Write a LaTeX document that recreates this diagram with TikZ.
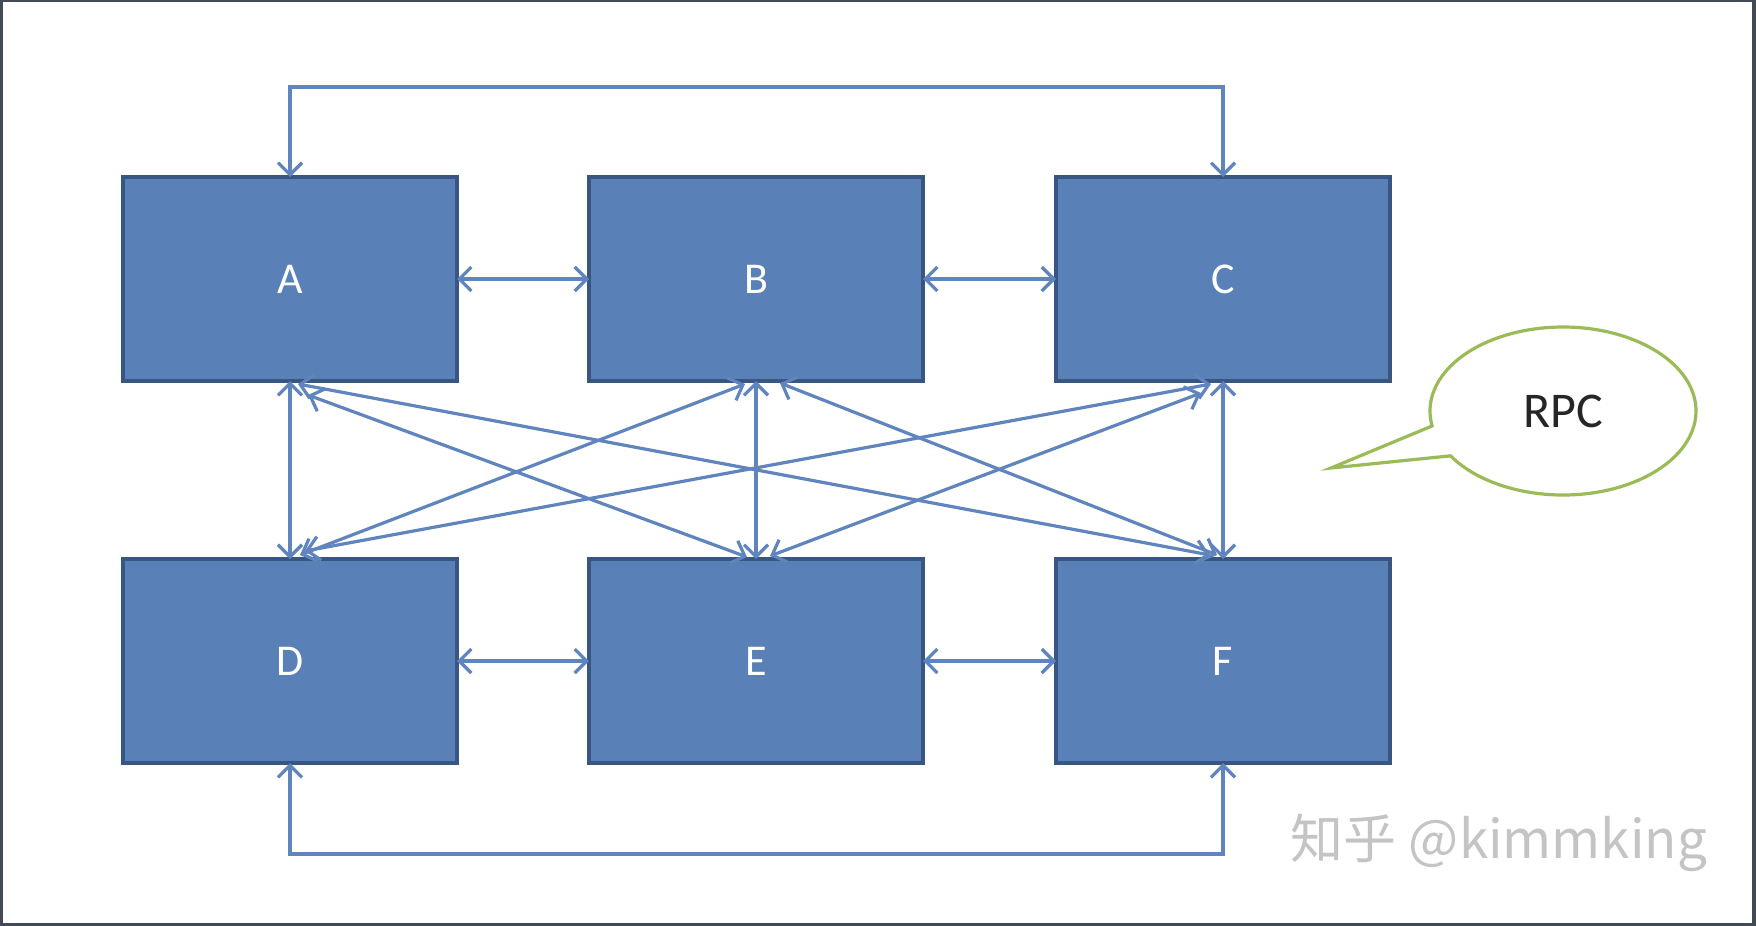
\documentclass[tikz,border=0pt]{standalone}
\usepackage{fontspec}
\setmainfont{Carlito}
\newfontfamily\cjkfont{Noto Sans CJK SC}
\usetikzlibrary{arrows.meta,shapes.callouts}
\definecolor{boxfill}{RGB}{89,128,183}
\definecolor{boxline}{RGB}{56,86,130}
\definecolor{linkcol}{RGB}{96,132,190}
\definecolor{rpcgreen}{RGB}{155,187,89}
\definecolor{framecol}{RGB}{66,74,86}
\definecolor{wmgray}{RGB}{196,196,196}
\begin{document}
\begin{tikzpicture}[x=0.5pt,y=-0.5pt,
  box/.style={draw=boxline, fill=boxfill, line width=2pt,
    minimum width=167pt, minimum height=102pt, inner sep=0pt, outer sep=0pt,
    text=white, font=\fontsize{22}{26}\selectfont},
  link/.style={draw=linkcol, line width=1.6pt,
    {Straight Barb[length=6pt,width=12pt]}-{Straight Barb[length=6pt,width=12pt]}},
  callbox/.style={ellipse callout, draw=rpcgreen, line width=1.6pt, fill=white,
    minimum width=133pt, minimum height=84pt, inner sep=0pt,
    callout pointer arc=22, font=\fontsize{25}{30}\selectfont, text=black!85}]
\useasboundingbox (0,0) rectangle (1756,926);
\fill[framecol] (0,0) rectangle (1756,926);
\fill[white] (3,2) rectangle (1752,923);

\node[box] (A) at (290,279) {A};
\node[box] (B) at (756,279) {B};
\node[box] (C) at (1223,279) {C};
\node[box] (D) at (290,661) {D};
\node[box] (E) at (756,661) {E};
\node[box] (F) at (1223,661) {F};

\coordinate (toprow) at (0,87);
\coordinate (botrow) at (0,854);

% outer loops
\draw[link] (A.north) -- (A.north |- toprow) -| (C.north);
\draw[link] (D.south) -- (D.south |- botrow) -| (F.south);

% horizontal
\draw[link] (A.east) -- (B.west);
\draw[link] (B.east) -- (C.west);
\draw[link] (D.east) -- (E.west);
\draw[link] (E.east) -- (F.west);

% vertical
\draw[link] (A.south) -- (D.north);
\draw[link] (B.south) -- (E.north);
\draw[link] (C.south) -- (F.north);

% diagonals
\draw[link] ([shift={(18,14)}]A.south) -- ([shift={(-9,-2)}]E.north);
\draw[link] ([shift={(8,3)}]A.south) -- ([shift={(-13,-4)}]F.north);
\draw[link] ([shift={(-11,3)}]B.south) -- ([shift={(10,-4)}]D.north);
\draw[link] ([shift={(24,2)}]B.south) -- ([shift={(-6,-4)}]F.north);
\draw[link] ([shift={(-12,3)}]C.south) -- ([shift={(15,-8)}]D.north);
\draw[link] ([shift={(-22,12)}]C.south) -- ([shift={(14,-3)}]E.north);

% RPC callout
\node[callbox, callout absolute pointer={(1331,468)}] (rpc) at (1563,411) {RPC};

% watermark
\node[text=wmgray, font=\cjkfont\fontsize{26.5}{31}\selectfont, inner sep=0pt] (wm) at (1499,843) {知乎 @kimmking};
\end{tikzpicture}
\end{document}
